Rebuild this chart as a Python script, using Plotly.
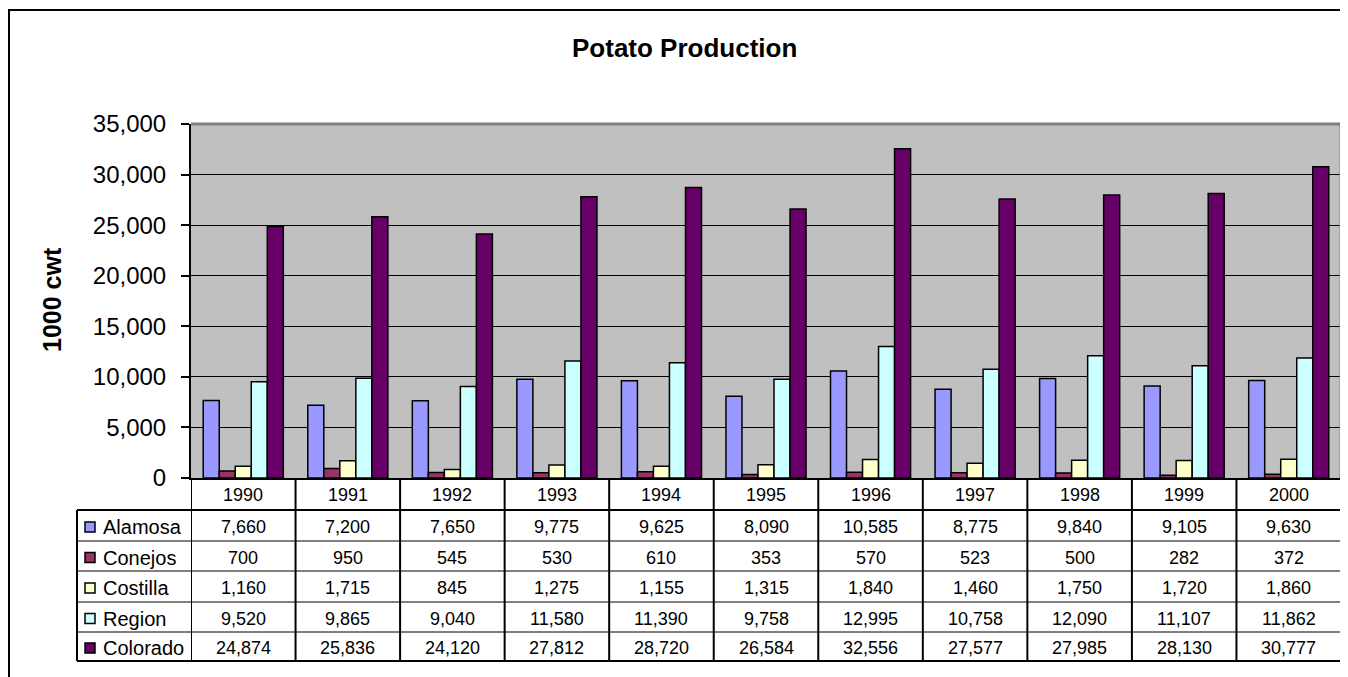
import plotly.graph_objects as go

# ---------------- data ----------------
years = ["1990", "1991", "1992", "1993", "1994", "1995", "1996", "1997", "1998", "1999", "2000"]
series_names = ["Alamosa", "Conejos", "Costilla", "Region", "Colorado"]
alamosa = [7660, 7200, 7650, 9775, 9625, 8090, 10585, 8775, 9840, 9105, 9630]
conejos = [700, 950, 545, 530, 610, 353, 570, 523, 500, 282, 372]
costilla = [1160, 1715, 845, 1275, 1155, 1315, 1840, 1460, 1750, 1720, 1860]
region = [9520, 9865, 9040, 11580, 11390, 9758, 12995, 10758, 12090, 11107, 11862]
colorado = [24874, 25836, 24120, 27812, 28720, 26584, 32556, 27577, 27985, 28130, 30777]
colors = ["#9999FF", "#993366", "#FFFFCC", "#CCFFFF", "#660066"]
title_text = "Potato Production"
y_title = "1000 cwt"

series_values = [alamosa, conejos, costilla, region, colorado]

# ---------------- geometry (screen pixels) ----------------
OFF = 8  # default page body margin
W, H = 1348 - OFF, 677 - OFF
L, R_EDGE, T, B_EDGE = 191, 1341, 124, 478
PW, PH = R_EDGE - L, B_EDGE - T
FONT = "Liberation Sans, Arial, sans-serif"


def px_x(px):
    return (px - L) / PW


def px_y(py):
    return (B_EDGE - py) / PH


idx = list(range(len(years)))

fig = go.Figure()
for name, vals, col in zip(series_names, series_values, colors):
    fig.add_trace(go.Bar(
        x=idx, y=vals, name=name,
        marker=dict(color=col, line=dict(color="black", width=1.5)),
        hovertemplate=name + " %{customdata}: %{y:,}<extra></extra>",
        customdata=years,
    ))

shapes = []
annotations = []

# outer chart frame (left and top visible)
shapes.append(dict(type="path", xref="paper", yref="paper",
                   path=f"M {px_x(9)} {px_y(700)} L {px_x(9)} {px_y(10)} L {px_x(1400)} {px_y(10)}",
                   line=dict(color="black", width=2)))

# plot area border (top/right gray)
shapes.append(dict(type="line", xref="paper", yref="paper", x0=0, x1=1, y0=1, y1=1,
                   line=dict(color="#808080", width=3)))
shapes.append(dict(type="line", xref="paper", yref="paper", x0=1, x1=1, y0=0, y1=1,
                   line=dict(color="#808080", width=3)))

# data table geometry
row_lines = [510, 541, 571, 602, 632, 661]
table_left = 77

# vertical lines between categories
for i in range(len(years) + 1):
    shapes.append(dict(type="line", xref="x", yref="paper", x0=i - 0.5, x1=i - 0.5,
                       y0=px_y(B_EDGE), y1=px_y(661), line=dict(color="black", width=2)))
# horizontal lines
for k, yl in enumerate(row_lines):
    w = 2 if k in (0, len(row_lines) - 1) else 1
    shapes.append(dict(type="line", xref="paper", yref="paper", x0=px_x(table_left), x1=1,
                       y0=px_y(yl), y1=px_y(yl), line=dict(color="black", width=w)))
# left border of legend column
shapes.append(dict(type="line", xref="paper", yref="paper", x0=px_x(table_left), x1=px_x(table_left),
                   y0=px_y(510), y1=px_y(661), line=dict(color="black", width=2)))

# year headers
for i, yr in enumerate(years):
    annotations.append(dict(x=i, y=px_y(495), xref="x", yref="paper", text=yr, showarrow=False,
                            xanchor="center", yanchor="middle", font=dict(family=FONT, size=18, color="black")))

# rows
for r, (name, vals, col) in enumerate(zip(series_names, series_values, colors)):
    yc = (row_lines[r] + row_lines[r + 1]) / 2 + 1.5
    shapes.append(dict(type="rect", xref="paper", yref="paper",
                       x0=px_x(85), x1=px_x(95), y0=px_y(yc - 5), y1=px_y(yc + 5),
                       fillcolor=col, line=dict(color="black", width=1.5)))
    annotations.append(dict(x=px_x(101), y=px_y(yc), xref="paper", yref="paper", text=name,
                            showarrow=False, xanchor="left", yanchor="middle",
                            font=dict(family=FONT, size=20, color="black")))
    for i, v in enumerate(vals):
        annotations.append(dict(x=i, y=px_y(yc), xref="x", yref="paper", text=f"{v:,}",
                                showarrow=False, xanchor="center", yanchor="middle",
                                font=dict(family=FONT, size=18, color="black")))

# title
annotations.append(dict(x=px_x(684), y=px_y(48), xref="paper", yref="paper",
                        text=f"<b>{title_text}</b>", showarrow=False, xanchor="center", yanchor="middle",
                        font=dict(family=FONT, size=26, color="black")))
# y axis title
annotations.append(dict(x=px_x(52), y=px_y(300), xref="paper", yref="paper",
                        text=f"<b>{y_title}</b>", showarrow=False, textangle=-90,
                        xanchor="center", yanchor="middle",
                        font=dict(family=FONT, size=25, color="black")))

fig.update_layout(
    width=W, height=H, autosize=False,
    margin=dict(l=L - OFF, r=W - (R_EDGE - OFF), t=T - OFF, b=H - (B_EDGE - OFF), pad=0),
    paper_bgcolor="white", plot_bgcolor="#C0C0C0",
    barmode="group", bargap=0.234, bargroupgap=0,
    showlegend=False,
    shapes=shapes, annotations=annotations,
    font=dict(family=FONT, color="black"),
    xaxis=dict(range=[-0.5, len(years) - 0.5], showticklabels=False, ticks="",
               showgrid=False, zeroline=False, showline=True, linecolor="black", linewidth=2,
               fixedrange=True),
    yaxis=dict(range=[0, 35000], dtick=5000, tick0=0, tickformat=",", ticks="outside",
               ticklen=8, tickwidth=1.5, tickcolor="black", showline=True, linecolor="black",
               linewidth=2, showgrid=True, gridcolor="black", gridwidth=1, zeroline=False,
               tickfont=dict(family=FONT, size=24, color="black"), ticklabelstandoff=10,
               fixedrange=True),
)

fig.write_html("out.html", post_script="document.body.style.overflow='hidden';")
